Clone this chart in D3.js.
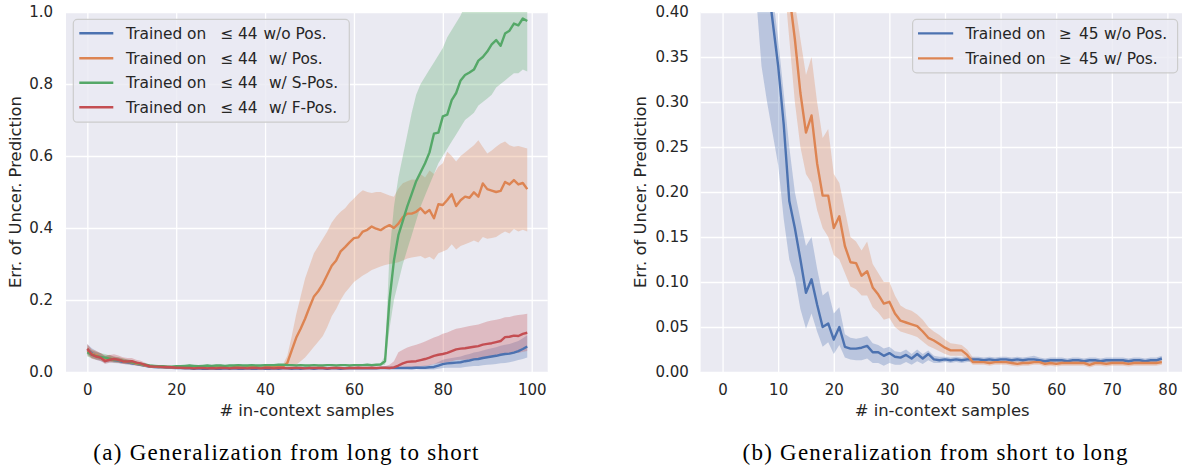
<!DOCTYPE html>
<html>
<head>
<meta charset="utf-8">
<script src="https://cdn.jsdelivr.net/npm/d3@7"></script>
<style>
  html, body { margin: 0; padding: 0; background: #ffffff; }
  svg { display: block; }
</style>
</head>
<body>
<svg id="fig" width="1182" height="465"></svg>
<script>
// ---------------- Panel (a): models trained on <= 44 samples ----------------
const stepsA = d3.range(0, 100);
const xTicksA = [0, 20, 40, 60, 80, 100];
const yTicksA = [0, 0.2, 0.4, 0.6, 0.8, 1.0];

const legendA = [
  ["Trained on", "≤", "44", "w/o Pos."],
  ["Trained on", "≤", "44", "w/ Pos."],
  ["Trained on", "≤", "44", "w/ S-Pos."],
  ["Trained on", "≤", "44", "w/ F-Pos."]
];

const noPosA = [
  0.062,0.052,0.045,0.040,0.034,0.036,0.033,0.031,0.028,0.027,0.024,0.022,0.020,0.017,0.015,0.014,0.013,0.013,0.012,0.012,
  0.011,0.011,0.010,0.010,0.009,0.010,0.009,0.009,0.010,0.009,0.009,0.010,0.009,0.010,0.009,0.009,0.010,0.009,0.009,0.010,
  0.009,0.009,0.010,0.009,0.010,0.010,0.009,0.010,0.009,0.010,0.010,0.009,0.010,0.010,0.009,0.010,0.010,0.009,0.010,0.010,
  0.010,0.011,0.010,0.010,0.011,0.010,0.011,0.011,0.011,0.011,0.011,0.011,0.011,0.011,0.012,0.012,0.012,0.013,0.014,0.018,
  0.022,0.024,0.025,0.026,0.027,0.030,0.032,0.035,0.036,0.039,0.041,0.043,0.045,0.048,0.050,0.051,0.054,0.058,0.064,0.071
];
const noPosALo = [
  0.048,0.040,0.034,0.030,0.025,0.027,0.025,0.024,0.022,0.021,0.019,0.018,0.016,0.014,0.012,0.011,0.011,0.011,0.010,0.010,
  0.009,0.009,0.008,0.008,0.007,0.008,0.007,0.007,0.008,0.007,0.007,0.008,0.007,0.008,0.007,0.007,0.008,0.007,0.007,0.008,
  0.007,0.007,0.008,0.007,0.008,0.008,0.007,0.008,0.007,0.008,0.008,0.007,0.008,0.008,0.007,0.008,0.008,0.007,0.008,0.008,
  0.008,0.009,0.008,0.008,0.009,0.008,0.009,0.009,0.009,0.009,0.008,0.008,0.008,0.007,0.008,0.007,0.007,0.007,0.007,0.009,
  0.011,0.012,0.012,0.012,0.012,0.014,0.015,0.017,0.017,0.019,0.020,0.021,0.022,0.024,0.025,0.027,0.030,0.033,0.036,0.040
];
const noPosAHi = [
  0.078,0.066,0.058,0.052,0.045,0.047,0.043,0.040,0.036,0.035,0.031,0.028,0.025,0.021,0.018,0.017,0.016,0.016,0.014,0.014,
  0.013,0.013,0.012,0.012,0.011,0.012,0.011,0.011,0.012,0.011,0.011,0.012,0.011,0.012,0.011,0.011,0.012,0.011,0.011,0.012,
  0.011,0.011,0.012,0.011,0.012,0.012,0.011,0.012,0.011,0.012,0.012,0.011,0.012,0.012,0.011,0.012,0.012,0.011,0.012,0.012,
  0.012,0.013,0.012,0.012,0.013,0.012,0.013,0.013,0.013,0.013,0.014,0.014,0.015,0.015,0.017,0.017,0.018,0.020,0.022,0.028,
  0.034,0.037,0.039,0.041,0.043,0.047,0.050,0.054,0.056,0.060,0.063,0.066,0.069,0.073,0.076,0.078,0.082,0.086,0.094,0.102
];

const posA = [
  0.060,0.050,0.047,0.041,0.036,0.038,0.034,0.033,0.030,0.028,0.026,0.023,0.021,0.018,0.016,0.015,0.014,0.014,0.013,0.013,
  0.013,0.012,0.013,0.012,0.013,0.013,0.012,0.013,0.012,0.013,0.013,0.013,0.012,0.013,0.013,0.012,0.013,0.013,0.013,0.012,
  0.013,0.013,0.013,0.014,0.015,0.025,0.060,0.095,0.120,0.148,0.180,0.210,0.225,0.245,0.270,0.295,0.310,0.335,0.347,0.360,
  0.372,0.374,0.390,0.395,0.404,0.398,0.394,0.402,0.408,0.400,0.412,0.430,0.440,0.440,0.445,0.455,0.441,0.450,0.427,0.466,
  0.464,0.478,0.494,0.461,0.477,0.487,0.484,0.499,0.487,0.524,0.508,0.504,0.500,0.503,0.528,0.521,0.533,0.521,0.525,0.508
];
const posALo = [
  0.046,0.038,0.036,0.031,0.027,0.029,0.026,0.025,0.023,0.021,0.020,0.018,0.016,0.014,0.013,0.012,0.011,0.011,0.010,0.010,
  0.011,0.010,0.011,0.010,0.011,0.011,0.010,0.011,0.010,0.011,0.011,0.011,0.010,0.011,0.011,0.010,0.011,0.011,0.011,0.010,
  0.011,0.011,0.011,0.011,0.011,0.012,0.015,0.020,0.030,0.040,0.055,0.070,0.085,0.100,0.125,0.155,0.175,0.200,0.220,0.235,
  0.250,0.259,0.268,0.275,0.283,0.288,0.293,0.297,0.300,0.302,0.305,0.310,0.315,0.318,0.320,0.322,0.315,0.320,0.312,0.330,
  0.335,0.340,0.355,0.340,0.350,0.355,0.360,0.365,0.360,0.375,0.370,0.372,0.375,0.383,0.390,0.385,0.397,0.390,0.395,0.390
];
const posAHi = [
  0.075,0.063,0.059,0.052,0.046,0.048,0.043,0.041,0.038,0.035,0.033,0.029,0.026,0.022,0.019,0.018,0.017,0.017,0.016,0.016,
  0.015,0.014,0.015,0.014,0.015,0.015,0.014,0.015,0.014,0.015,0.015,0.015,0.014,0.015,0.015,0.014,0.015,0.015,0.015,0.014,
  0.015,0.015,0.015,0.017,0.020,0.045,0.100,0.160,0.210,0.260,0.295,0.330,0.350,0.370,0.390,0.415,0.432,0.445,0.455,0.470,
  0.482,0.495,0.505,0.500,0.497,0.500,0.500,0.495,0.490,0.487,0.510,0.524,0.530,0.535,0.534,0.550,0.540,0.560,0.550,0.570,
  0.580,0.612,0.600,0.585,0.600,0.610,0.620,0.630,0.644,0.625,0.607,0.615,0.626,0.635,0.640,0.630,0.626,0.628,0.624,0.621
];

const sPosA = [
  0.055,0.048,0.044,0.042,0.040,0.037,0.034,0.033,0.031,0.029,0.027,0.025,0.022,0.020,0.018,0.017,0.016,0.016,0.015,0.015,
  0.016,0.016,0.017,0.018,0.017,0.016,0.017,0.018,0.017,0.018,0.018,0.017,0.018,0.018,0.019,0.018,0.018,0.019,0.018,0.018,
  0.019,0.019,0.019,0.020,0.020,0.019,0.019,0.018,0.019,0.018,0.018,0.019,0.018,0.018,0.019,0.019,0.018,0.019,0.019,0.018,
  0.019,0.019,0.019,0.020,0.019,0.020,0.021,0.030,0.200,0.310,0.380,0.420,0.460,0.495,0.530,0.555,0.580,0.610,0.662,0.665,
  0.710,0.715,0.755,0.775,0.810,0.825,0.832,0.840,0.865,0.875,0.890,0.910,0.922,0.906,0.940,0.948,0.968,0.963,0.982,0.975
];
const sPosALo = [
  0.043,0.038,0.035,0.034,0.032,0.030,0.027,0.027,0.025,0.024,0.022,0.021,0.018,0.017,0.015,0.014,0.014,0.014,0.013,0.013,
  0.014,0.014,0.015,0.016,0.015,0.014,0.015,0.016,0.015,0.016,0.016,0.015,0.016,0.016,0.017,0.016,0.016,0.017,0.016,0.016,
  0.017,0.017,0.017,0.018,0.018,0.017,0.017,0.016,0.017,0.016,0.016,0.017,0.016,0.016,0.017,0.017,0.016,0.017,0.017,0.016,
  0.017,0.017,0.017,0.018,0.017,0.018,0.018,0.020,0.120,0.200,0.250,0.300,0.340,0.380,0.420,0.460,0.490,0.520,0.550,0.580,
  0.600,0.620,0.640,0.660,0.680,0.700,0.710,0.720,0.740,0.750,0.760,0.770,0.790,0.800,0.810,0.820,0.830,0.830,0.840,0.835
];
const sPosAHi = [
  0.068,0.060,0.055,0.052,0.050,0.046,0.042,0.041,0.038,0.035,0.033,0.030,0.026,0.024,0.021,0.020,0.019,0.019,0.018,0.018,
  0.018,0.018,0.019,0.020,0.019,0.018,0.019,0.020,0.019,0.020,0.020,0.019,0.020,0.020,0.021,0.020,0.020,0.021,0.020,0.020,
  0.021,0.021,0.021,0.022,0.022,0.021,0.021,0.020,0.021,0.020,0.020,0.021,0.020,0.020,0.021,0.021,0.020,0.021,0.021,0.020,
  0.021,0.021,0.021,0.022,0.021,0.022,0.024,0.045,0.330,0.460,0.540,0.600,0.660,0.720,0.770,0.800,0.820,0.840,0.860,0.880,
  0.900,0.930,0.950,0.970,0.990,1.020,1.040,1.060,1.070,1.080,1.100,1.100,1.110,1.110,1.120,1.120,1.120,1.120,1.120,1.120
];

const fPosA = [
  0.065,0.048,0.043,0.040,0.030,0.034,0.036,0.034,0.030,0.029,0.030,0.026,0.024,0.020,0.016,0.015,0.015,0.014,0.014,0.013,
  0.012,0.012,0.011,0.011,0.010,0.011,0.011,0.010,0.011,0.010,0.011,0.011,0.010,0.011,0.011,0.011,0.010,0.011,0.011,0.010,
  0.011,0.011,0.010,0.011,0.011,0.010,0.011,0.011,0.011,0.010,0.011,0.011,0.011,0.011,0.010,0.011,0.011,0.011,0.010,0.011,
  0.011,0.012,0.011,0.011,0.012,0.011,0.012,0.012,0.011,0.013,0.018,0.024,0.028,0.029,0.030,0.033,0.036,0.040,0.045,0.048,
  0.050,0.053,0.058,0.063,0.065,0.066,0.068,0.070,0.072,0.076,0.078,0.080,0.083,0.086,0.097,0.098,0.101,0.100,0.106,0.109
];
const fPosALo = [
  0.052,0.037,0.033,0.031,0.022,0.026,0.028,0.026,0.023,0.022,0.023,0.020,0.018,0.015,0.012,0.012,0.012,0.011,0.011,0.011,
  0.010,0.010,0.009,0.009,0.008,0.009,0.009,0.008,0.009,0.008,0.009,0.009,0.008,0.009,0.009,0.009,0.008,0.009,0.009,0.008,
  0.009,0.009,0.008,0.009,0.009,0.008,0.009,0.009,0.009,0.008,0.009,0.009,0.009,0.009,0.008,0.009,0.009,0.009,0.008,0.009,
  0.009,0.010,0.009,0.009,0.010,0.009,0.010,0.009,0.008,0.009,0.010,0.012,0.013,0.013,0.013,0.015,0.017,0.019,0.022,0.024,
  0.025,0.027,0.030,0.033,0.034,0.034,0.035,0.036,0.037,0.039,0.040,0.041,0.043,0.045,0.052,0.052,0.054,0.053,0.056,0.058
];
const fPosAHi = [
  0.078,0.061,0.056,0.053,0.043,0.047,0.049,0.046,0.041,0.039,0.039,0.034,0.031,0.026,0.020,0.019,0.018,0.017,0.017,0.016,
  0.014,0.014,0.013,0.013,0.012,0.013,0.013,0.012,0.013,0.012,0.013,0.013,0.012,0.013,0.013,0.013,0.012,0.013,0.013,0.012,
  0.013,0.013,0.012,0.013,0.013,0.012,0.013,0.013,0.013,0.012,0.013,0.013,0.013,0.013,0.012,0.013,0.013,0.013,0.012,0.013,
  0.013,0.014,0.013,0.013,0.014,0.013,0.014,0.016,0.020,0.030,0.055,0.062,0.068,0.072,0.076,0.080,0.085,0.090,0.096,0.100,
  0.106,0.110,0.115,0.120,0.122,0.125,0.128,0.130,0.132,0.136,0.140,0.143,0.145,0.148,0.152,0.153,0.156,0.158,0.160,0.162
];

// ---------------- Panel (b): models trained on >= 45 samples ----------------
const stepsB = d3.range(0, 80);
const xTicksB = [0, 10, 20, 30, 40, 50, 60, 70, 80];
const yTicksB = [0, 0.05, 0.10, 0.15, 0.20, 0.25, 0.30, 0.35, 0.40];

const legendB = [
  ["Trained on", "≥", "45", "w/o Pos."],
  ["Trained on", "≥", "45", "w/ Pos."]
];

const noPosB = [
  1.300,1.150,1.000,0.900,0.800,0.680,0.580,0.500,0.440,0.390,
  0.340,0.275,0.190,0.160,0.125,0.088,0.103,0.075,0.050,0.054,
  0.036,0.050,0.028,0.026,0.026,0.027,0.029,0.022,0.022,0.018,
  0.021,0.017,0.016,0.019,0.015,0.020,0.015,0.020,0.014,0.013,
  0.014,0.013,0.014,0.013,0.014,0.014,0.014,0.013,0.014,0.013,
  0.014,0.014,0.013,0.014,0.013,0.014,0.014,0.013,0.012,0.013,
  0.013,0.013,0.012,0.013,0.013,0.012,0.013,0.013,0.012,0.013,
  0.013,0.013,0.013,0.012,0.013,0.013,0.012,0.013,0.013,0.015
];
const noPosBLo = [
  1.000,0.900,0.800,0.700,0.600,0.500,0.420,0.340,0.300,0.265,
  0.230,0.170,0.125,0.105,0.070,0.048,0.065,0.045,0.028,0.033,
  0.020,0.030,0.016,0.014,0.013,0.013,0.015,0.010,0.010,0.007,
  0.010,0.008,0.008,0.011,0.008,0.012,0.009,0.013,0.010,0.010,
  0.011,0.010,0.011,0.010,0.011,0.011,0.011,0.010,0.011,0.010,
  0.011,0.011,0.010,0.011,0.010,0.011,0.011,0.010,0.009,0.010,
  0.010,0.010,0.009,0.010,0.010,0.009,0.010,0.010,0.009,0.010,
  0.010,0.010,0.010,0.009,0.010,0.010,0.009,0.010,0.010,0.012
];
const noPosBHi = [
  1.600,1.400,1.250,1.100,0.980,0.850,0.720,0.620,0.520,0.420,
  0.370,0.310,0.250,0.200,0.170,0.140,0.150,0.115,0.085,0.090,
  0.065,0.072,0.042,0.038,0.037,0.038,0.040,0.032,0.030,0.026,
  0.028,0.023,0.022,0.025,0.020,0.025,0.020,0.024,0.018,0.017,
  0.017,0.016,0.017,0.016,0.017,0.017,0.017,0.016,0.017,0.016,
  0.017,0.017,0.016,0.017,0.016,0.017,0.018,0.016,0.015,0.016,
  0.016,0.016,0.015,0.016,0.016,0.015,0.016,0.016,0.015,0.016,
  0.016,0.016,0.016,0.015,0.016,0.016,0.015,0.016,0.016,0.018
];

const posB = [
  1.600,1.450,1.300,1.200,1.100,1.000,0.900,0.800,0.700,0.620,
  0.550,0.480,0.420,0.370,0.310,0.266,0.285,0.232,0.196,0.196,
  0.160,0.173,0.140,0.122,0.121,0.107,0.112,0.094,0.086,0.076,
  0.078,0.065,0.057,0.055,0.053,0.051,0.045,0.038,0.035,0.031,
  0.027,0.024,0.024,0.024,0.019,0.011,0.011,0.011,0.010,0.011,
  0.011,0.011,0.010,0.009,0.010,0.010,0.011,0.011,0.009,0.010,
  0.009,0.010,0.010,0.010,0.010,0.010,0.008,0.010,0.010,0.009,
  0.010,0.010,0.010,0.009,0.010,0.010,0.010,0.010,0.010,0.011
];
const posBLo = [
  1.300,1.200,1.100,1.000,0.900,0.800,0.700,0.620,0.550,0.500,
  0.460,0.440,0.370,0.300,0.250,0.220,0.210,0.180,0.160,0.150,
  0.130,0.125,0.110,0.095,0.092,0.085,0.085,0.072,0.066,0.058,
  0.060,0.050,0.045,0.043,0.041,0.039,0.034,0.029,0.026,0.023,
  0.020,0.018,0.018,0.018,0.014,0.008,0.008,0.008,0.007,0.008,
  0.008,0.008,0.007,0.006,0.007,0.007,0.008,0.008,0.006,0.007,
  0.006,0.007,0.007,0.007,0.007,0.007,0.005,0.007,0.007,0.006,
  0.007,0.007,0.007,0.006,0.007,0.007,0.007,0.007,0.007,0.008
];
const posBHi = [
  1.900,1.700,1.500,1.400,1.300,1.200,1.100,1.000,0.850,0.750,
  0.650,0.550,0.470,0.410,0.370,0.330,0.350,0.300,0.260,0.270,
  0.220,0.210,0.180,0.150,0.145,0.135,0.145,0.120,0.110,0.100,
  0.100,0.085,0.074,0.070,0.068,0.064,0.058,0.050,0.045,0.041,
  0.036,0.032,0.031,0.030,0.025,0.016,0.015,0.014,0.013,0.014,
  0.014,0.014,0.013,0.012,0.013,0.013,0.014,0.014,0.012,0.013,
  0.012,0.013,0.013,0.013,0.013,0.013,0.011,0.013,0.013,0.012,
  0.013,0.013,0.013,0.012,0.013,0.013,0.013,0.013,0.013,0.014
];

// ---------------- Styling (seaborn "darkgrid" look) ----------------
const PALETTE = { blue: "#4C72B0", orange: "#DD8452", green: "#55A868", red: "#C44E52" };
const AX_BG = "#EAEAF2";
const TEXT = "#262626";
const SANS = "'DejaVu Sans', sans-serif";
const BAND_ALPHA = 0.3;

const svg = d3.select("#fig");

function drawPanel(p, idx) {
  const g = svg.append("g");
  const x = d3.scaleLinear().domain(p.xDomain).range([p.left, p.right]);
  const y = d3.scaleLinear().domain(p.yDomain).range([p.bottom, p.top]);
  const h = p.bottom - p.top;

  const clipId = "clip" + idx;
  g.append("clipPath").attr("id", clipId)
    .append("rect").attr("x", p.left).attr("y", p.top)
    .attr("width", p.right - p.left).attr("height", h);

  g.append("rect").attr("x", p.left).attr("y", p.top)
    .attr("width", p.right - p.left).attr("height", h).attr("fill", AX_BG);

  // white grid lines
  const gridX = g.append("g").attr("transform", `translate(0,${p.bottom})`)
    .call(d3.axisBottom(x).tickValues(p.xTicks).tickSize(-h).tickFormat(""));
  const gridY = g.append("g").attr("transform", `translate(${p.left},0)`)
    .call(d3.axisLeft(y).tickValues(p.yTicks).tickSize(-(p.right - p.left)).tickFormat(""));
  [gridX, gridY].forEach(gg => {
    gg.select(".domain").remove();
    gg.selectAll(".tick line").attr("stroke", "#ffffff").attr("stroke-width", 1.3);
  });

  // tick labels
  const axX = g.append("g").attr("transform", `translate(0,${p.bottom})`)
    .call(d3.axisBottom(x).tickValues(p.xTicks).tickSize(0).tickPadding(12.4).tickFormat(d3.format("d")));
  const axY = g.append("g").attr("transform", `translate(${p.left},0)`)
    .call(d3.axisLeft(y).tickValues(p.yTicks).tickSize(0).tickPadding(p.yPad).tickFormat(d3.format(p.yFmt)));
  [axX, axY].forEach(a => {
    a.select(".domain").remove();
    a.attr("font-family", SANS).attr("font-size", 15);
    a.selectAll("text").attr("fill", TEXT);
  });

  // axis titles
  g.append("text")
    .attr("x", (p.left + p.right) / 2).attr("y", 416)
    .attr("text-anchor", "middle").attr("font-family", SANS).attr("font-size", 16.4)
    .attr("fill", TEXT).text("# in-context samples");
  g.append("text")
    .attr("transform", `translate(${p.ylabelX},${(p.top + p.bottom) / 2}) rotate(-90)`)
    .attr("text-anchor", "middle").attr("font-family", SANS).attr("font-size", 16.4)
    .attr("fill", TEXT).text("Err. of Uncer. Prediction");

  // confidence bands, then mean curves
  const plot = g.append("g").attr("clip-path", `url(#${clipId})`);
  p.series.forEach(s => {
    const area = d3.area()
      .x((d, i) => x(p.steps[i]))
      .y0((d, i) => y(s.lo[i]))
      .y1((d, i) => y(s.hi[i]));
    plot.append("path").datum(s.mean).attr("d", area)
      .attr("fill", s.color).attr("fill-opacity", BAND_ALPHA).attr("stroke", "none");
  });
  p.series.forEach(s => {
    const line = d3.line().x((d, i) => x(p.steps[i])).y(d => y(d));
    plot.append("path").datum(s.mean).attr("d", line)
      .attr("fill", "none").attr("stroke", s.color).attr("stroke-width", 2.4)
      .attr("stroke-linejoin", "round");
  });

  // legend
  const L = p.legend;
  const lg = g.append("g");
  lg.append("rect").attr("x", L.x0).attr("y", L.y0)
    .attr("width", L.x1 - L.x0).attr("height", L.y1 - L.y0)
    .attr("rx", 4).attr("ry", 4)
    .attr("fill", AX_BG).attr("fill-opacity", 0.8)
    .attr("stroke", "#cccccc").attr("stroke-width", 1.2);
  p.series.forEach((s, i) => {
    const ry = L.rows[i];
    lg.append("line").attr("x1", L.lineX0).attr("x2", L.lineX1)
      .attr("y1", ry).attr("y2", ry)
      .attr("stroke", s.color).attr("stroke-width", 2.4);
    const t = lg.append("text").attr("y", ry + 5.6)
      .attr("font-family", SANS).attr("font-size", 15.4).attr("fill", TEXT);
    const parts = s.label;
    t.append("tspan").attr("x", L.textX).text(parts[0]);
    t.append("tspan").attr("x", L.symX).text(parts[1]);
    t.append("tspan").attr("x", L.numX).text(parts[2]);
    t.append("tspan").attr("x", L.tailX[i]).text(parts[3]);
  });

  // sub-figure caption
  svg.append("text")
    .attr("x", p.captionX).attr("y", 460)
    .attr("text-anchor", "middle")
    .attr("font-family", "'Liberation Serif', 'Times New Roman', serif")
    .attr("font-size", 23)
    .attr("textLength", 385).attr("lengthAdjust", "spacing")
    .attr("fill", "#000000").text(p.caption);
}

drawPanel({
  left: 66, right: 547.7, top: 12, bottom: 372,
  xDomain: [-4.8, 103.6], yDomain: [0, 1],
  xTicks: xTicksA, yTicks: yTicksA, yFmt: ".1f", yPad: 13,
  steps: stepsA, ylabelX: 21,
  series: [
    { color: PALETTE.blue,   mean: noPosA, lo: noPosALo, hi: noPosAHi, label: legendA[0] },
    { color: PALETTE.orange, mean: posA,   lo: posALo,   hi: posAHi,   label: legendA[1] },
    { color: PALETTE.green,  mean: sPosA,  lo: sPosALo,  hi: sPosAHi,  label: legendA[2] },
    { color: PALETTE.red,    mean: fPosA,  lo: fPosALo,  hi: fPosAHi,  label: legendA[3] }
  ],
  legend: {
    x0: 73.3, x1: 349.3, y0: 19.4, y1: 122.2,
    rows: [33.3, 58.3, 82.7, 107.3],
    lineX0: 79.3, lineX1: 113.3, textX: 126, symX: 220.5, numX: 238, tailX: [263.5, 269, 269, 269]
  },
  caption: "(a) Generalization from long to short", captionX: 285.8
}, 0);

drawPanel({
  left: 700.6, right: 1183.8, top: 12, bottom: 372,
  xDomain: [-3.95, 82.95], yDomain: [0, 0.4],
  xTicks: xTicksB, yTicks: yTicksB, yFmt: ".2f", yPad: 11.8,
  steps: stepsB, ylabelX: 645.5,
  series: [
    { color: PALETTE.blue,   mean: noPosB, lo: noPosBLo, hi: noPosBHi, label: legendB[0] },
    { color: PALETTE.orange, mean: posB,   lo: posBLo,   hi: posBHi,   label: legendB[1] }
  ],
  legend: {
    x0: 912.6, x1: 1177.6, y0: 19.4, y1: 72.8,
    rows: [33.4, 58.4],
    lineX0: 918, lineX1: 953.2, textX: 965.4, symX: 1059, numX: 1079, tailX: [1104, 1104]
  },
  caption: "(b) Generalization from short to long", captionX: 935
}, 1);
</script>
</body>
</html>
